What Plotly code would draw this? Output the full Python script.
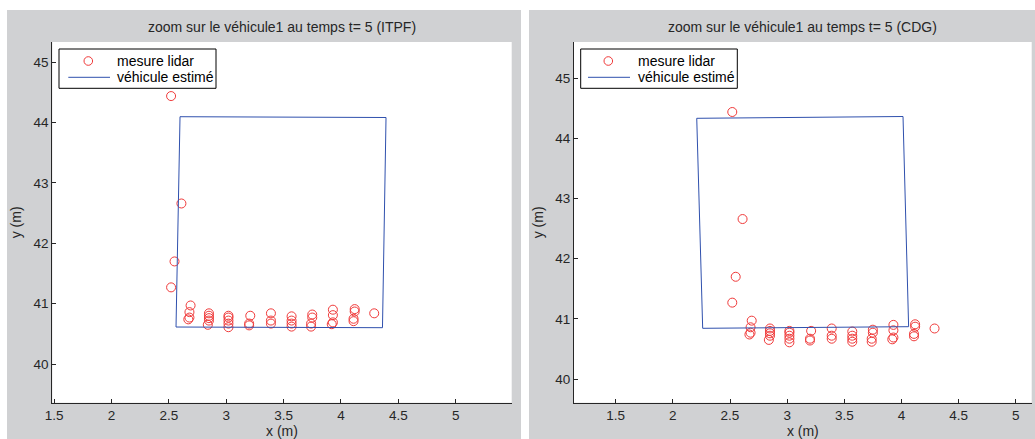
import plotly.graph_objects as go

# ---------------- data ----------------
lidar_x = [2.52, 2.61, 2.55, 2.52,
           2.69, 2.68, 2.68, 2.67,
           2.85, 2.85, 2.85, 2.85, 2.84,
           3.02, 3.02, 3.02, 3.02, 3.02,
           3.21, 3.20, 3.20,
           3.39, 3.39, 3.39,
           3.57, 3.57, 3.57, 3.57,
           3.75, 3.75, 3.74, 3.74,
           3.93, 3.93, 3.93, 3.92,
           4.12, 4.12, 4.11, 4.11,
           4.29]
lidar_y = [44.44, 42.66, 41.70, 41.27,
           40.97, 40.86, 40.77, 40.74,
           40.84, 40.80, 40.76, 40.72, 40.65,
           40.80, 40.77, 40.72, 40.67, 40.61,
           40.80, 40.67, 40.64,
           40.84, 40.72, 40.67,
           40.79, 40.72, 40.67, 40.62,
           40.82, 40.77, 40.67, 40.62,
           40.90, 40.81, 40.69, 40.66,
           40.91, 40.87, 40.75, 40.71,
           40.84]

itpf_x = [2.598, 4.393, 4.362, 2.563, 2.598]
itpf_y = [44.098, 44.085, 40.602, 40.613, 44.098]

cdg_x = [2.209, 4.014, 4.063, 2.261, 2.209]
cdg_y = [44.335, 44.365, 40.870, 40.843, 44.335]

titles = ["zoom sur le véhicule1 au temps t= 5 (ITPF)",
          "zoom sur le véhicule1 au temps t= 5 (CDG)"]
legend_names = ["mesure lidar", "véhicule estimé"]
x_ticks = [1.5, 2, 2.5, 3, 3.5, 4, 4.5, 5]
x_ticktext = ["1.5", "2", "2.5", "3", "3.5", "4", "4.5", "5"]
y_ticks = [40, 41, 42, 43, 44, 45]
y_ticktext = ["40", "41", "42", "43", "44", "45"]

# ---------------- layout constants ----------------
W, H = 1035, 439
FONT = "Liberation Sans, Arial, Helvetica, sans-serif"
GRAY = "#d0d1d3"
TXT = "#262626"
RED = "#f03a3a"
BLUE = "#2f50ad"


def px_x(p):
    return p / W


def px_y(p):
    return 1 - p / H


left_dom = [px_x(52.3), px_x(511.7)]
right_dom = [px_x(574), px_x(1031.7)]
y_dom = [px_y(402.7), px_y(42)]

fig = go.Figure()

panels = [
    dict(vx=itpf_x, vy=itpf_y, xa="x", ya="y"),
    dict(vx=cdg_x, vy=cdg_y, xa="x2", ya="y2"),
]
for p in panels:
    fig.add_trace(go.Scatter(
        x=lidar_x, y=lidar_y, mode="markers", name=legend_names[0],
        marker=dict(symbol="circle-open", size=9, color=RED,
                    line=dict(width=1, color=RED)),
        xaxis=p["xa"], yaxis=p["ya"], showlegend=False))
    fig.add_trace(go.Scatter(
        x=p["vx"], y=p["vy"], mode="lines", name=legend_names[1],
        line=dict(color=BLUE, width=1),
        xaxis=p["xa"], yaxis=p["ya"], showlegend=False))

axis_common = dict(
    showline=True, linecolor=TXT, linewidth=1, mirror=False,
    ticks="inside", ticklen=4, tickcolor=TXT, tickwidth=1,
    showgrid=False, zeroline=False, automargin=False,
    tickfont=dict(family=FONT, size=13.5, color=TXT),
    title_font=dict(family=FONT, size=14, color=TXT),
)

xaxis_kw = dict(axis_common, tickmode="array", tickvals=x_ticks,
                ticktext=x_ticktext, title_text="x (m)", title_standoff=3)
yaxis_kw = dict(axis_common, tickmode="array", tickvals=y_ticks,
                ticktext=y_ticktext, title_text="y (m)", title_standoff=8)

shapes = [
    dict(type="rect", xref="paper", yref="paper", layer="below",
         x0=px_x(7), x1=px_x(521), y0=0, y1=px_y(10),
         fillcolor=GRAY, line=dict(width=0)),
    dict(type="rect", xref="paper", yref="paper", layer="below",
         x0=px_x(529), x1=1, y0=0, y1=px_y(10),
         fillcolor=GRAY, line=dict(width=0)),
    dict(type="rect", xref="paper", yref="paper", layer="below",
         x0=left_dom[0], x1=left_dom[1], y0=y_dom[0], y1=y_dom[1],
         fillcolor="white", line=dict(width=0)),
    dict(type="rect", xref="paper", yref="paper", layer="below",
         x0=right_dom[0], x1=right_dom[1], y0=y_dom[0], y1=y_dom[1],
         fillcolor="white", line=dict(width=0)),
]

annotations = [
    dict(text=titles[0], xref="paper", yref="paper",
         x=(left_dom[0] + left_dom[1]) / 2, y=px_y(27),
         xanchor="center", yanchor="middle", showarrow=False,
         font=dict(family=FONT, size=14, color=TXT)),
    dict(text=titles[1], xref="paper", yref="paper",
         x=(right_dom[0] + right_dom[1]) / 2, y=px_y(27),
         xanchor="center", yanchor="middle", showarrow=False,
         font=dict(family=FONT, size=14, color=TXT)),
]

# legend boxes (drawn like the MATLAB legend: box, symbol, label)
legend_boxes = [
    dict(x0=59, x1=216, circ=88.3, l0=68.3, l1=110, tx=115),
    dict(x0=580.7, x1=737.3, circ=608.3, l0=588, l1=630, tx=636),
]
ROW1, ROW2, TOP, BOT = 61, 77.3, 49, 88.3
for lb in legend_boxes:
    shapes.append(dict(type="rect", xref="paper", yref="paper", layer="above",
                       x0=px_x(lb["x0"]), x1=px_x(lb["x1"]),
                       y0=px_y(BOT), y1=px_y(TOP),
                       fillcolor="white", line=dict(color="black", width=1)))
    shapes.append(dict(type="circle", xref="paper", yref="paper", layer="above",
                       x0=px_x(lb["circ"] - 4.3), x1=px_x(lb["circ"] + 4.3),
                       y0=px_y(ROW1 + 4.3), y1=px_y(ROW1 - 4.3),
                       line=dict(color=RED, width=1)))
    shapes.append(dict(type="line", xref="paper", yref="paper", layer="above",
                       x0=px_x(lb["l0"]), x1=px_x(lb["l1"]),
                       y0=px_y(ROW2), y1=px_y(ROW2),
                       line=dict(color=BLUE, width=1)))
    for name, row in zip(legend_names, [ROW1, ROW2]):
        annotations.append(dict(
            text=name, xref="paper", yref="paper",
            x=px_x(lb["tx"]), y=px_y(row), xanchor="left", yanchor="middle",
            showarrow=False, font=dict(family=FONT, size=14, color="black")))

fig.update_layout(
    template="none",
    width=W, height=H, autosize=False,
    margin=dict(l=0, r=0, t=0, b=0, pad=0),
    paper_bgcolor="white", plot_bgcolor="white",
    showlegend=False,
    xaxis=dict(xaxis_kw, domain=left_dom, range=[1.485, 5.488], anchor="y"),
    yaxis=dict(yaxis_kw, domain=y_dom, range=[39.359, 45.336], anchor="x"),
    xaxis2=dict(xaxis_kw, domain=right_dom, range=[1.135, 5.140], anchor="y2"),
    yaxis2=dict(yaxis_kw, domain=y_dom, range=[39.606, 45.604], anchor="x2"),
    shapes=shapes,
    annotations=annotations,
)

fig.write_html(
    "out.html",
    config={"displayModeBar": False},
    post_script=("document.body.style.margin='0px';"
                 "document.body.style.padding='0px';"
                 "document.documentElement.style.overflow='hidden';"),
)
